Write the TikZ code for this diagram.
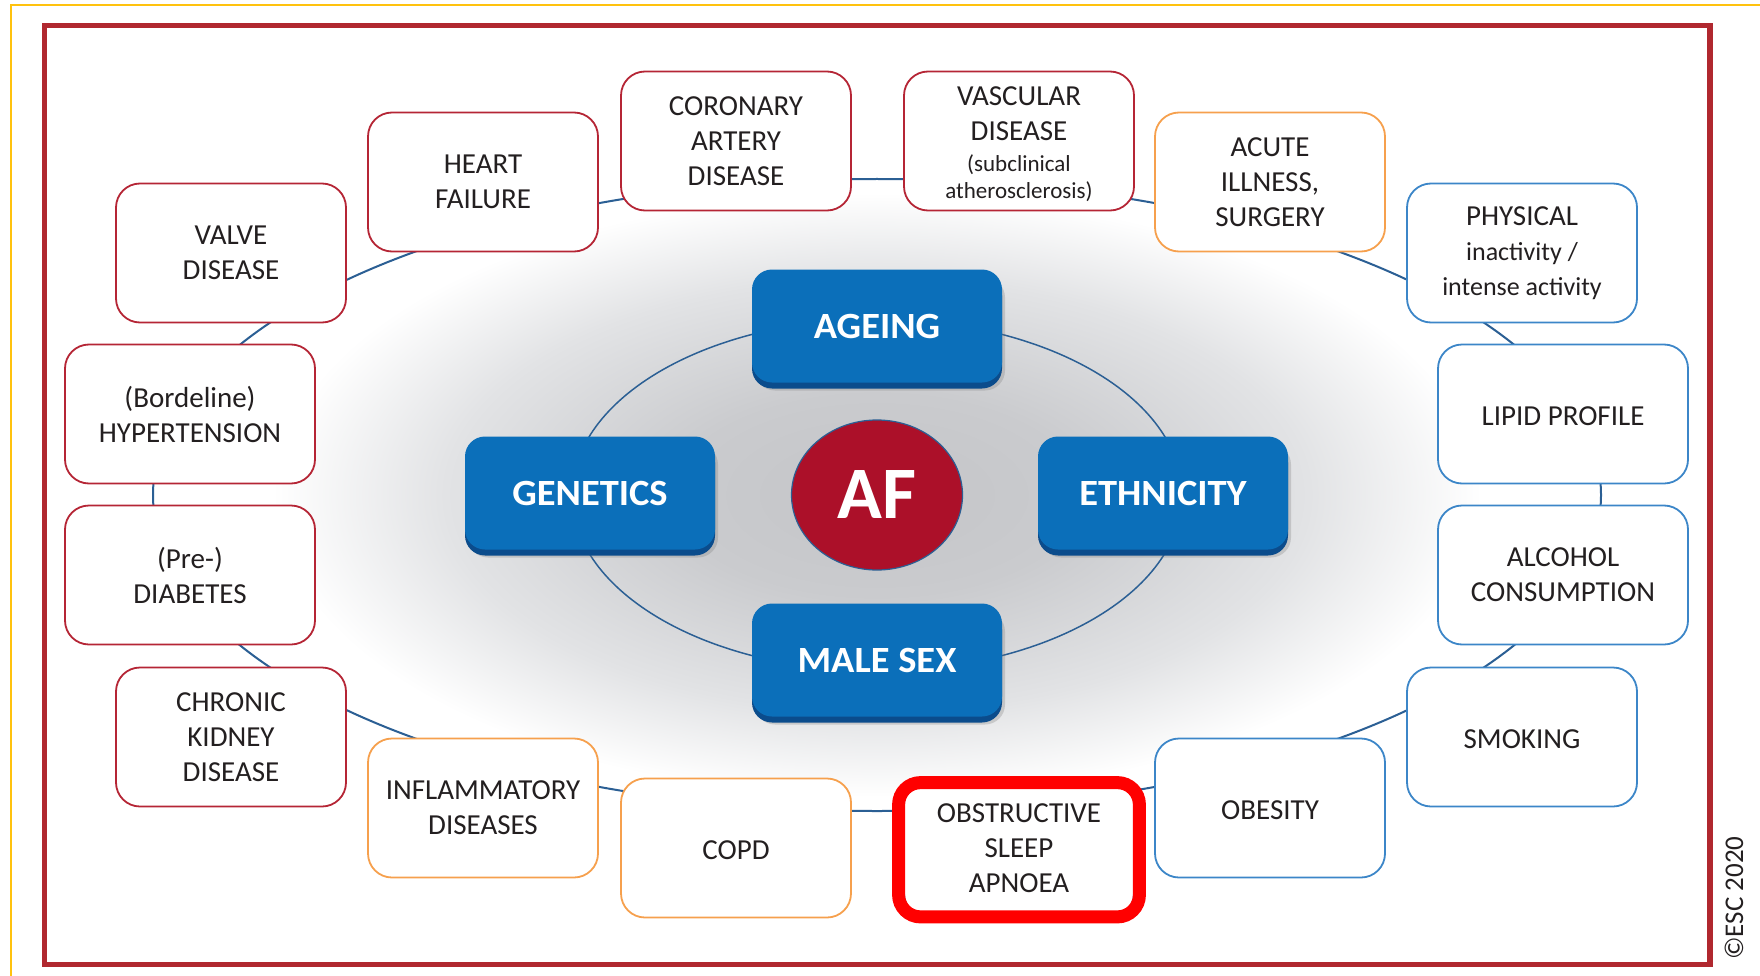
\documentclass[tikz,border=0pt]{standalone}
\usepackage{fontspec}
\setmainfont{Carlito}
\newfontfamily\btnfont[FakeStretch=1.04]{Carlito}
\usetikzlibrary{calc,shapes.geometric,shadows}

\definecolor{framered}{HTML}{B0282F}
\definecolor{edgeyellow}{HTML}{FFC20E}
\definecolor{boxred}{HTML}{B52535}
\definecolor{boxorange}{HTML}{F6A04D}
\definecolor{boxblue}{HTML}{3C86C8}
\definecolor{ringblue}{HTML}{2B5F94}
\definecolor{btnblue}{HTML}{0B6FBA}
\definecolor{btndark}{HTML}{0B4C8C}
\definecolor{afred}{HTML}{AC1029}
\definecolor{txtgray}{HTML}{231F20}
\definecolor{glowa}{HTML}{C4C5C8}
\definecolor{glowb}{HTML}{CACBCE}
\definecolor{glowc}{HTML}{E2E3E5}
\pgfdeclareradialshading{afglow}{\pgfpoint{0bp}{0bp}}{color(0bp)=(glowa); color(7bp)=(glowb); color(15bp)=(glowc); color(21bp)=(white); color(50bp)=(white)}

\begin{document}
\begin{tikzpicture}[x=1pt, y=-1pt,
	riskbox/.style={draw, line width=1.8pt, fill=white, rounded corners=24pt, minimum width=230pt, minimum height=139pt, inner sep=0pt, align=center, text=txtgray, font=\fontsize{29}{35}\selectfont, execute at begin node={\rule{0pt}{24pt}}},
	widebox/.style={riskbox, minimum width=250pt},
	redrisk/.style={draw=boxred},
	orangerisk/.style={draw=boxorange},
	bluerisk/.style={draw=boxblue},
	factorbtn/.style={rounded corners=20pt, minimum width=250pt, minimum height=113pt, inner sep=0pt, fill=btnblue, text=white, font=\btnfont\bfseries\fontsize{37}{40}\selectfont, drop shadow={shadow xshift=3pt, shadow yshift=-8pt, opacity=0.3}, general shadow={fill=btndark, shadow yshift=-6pt}},
	ring/.style={draw=ringblue, line width=2pt},
	innerring/.style={draw=ringblue, line width=1.5pt},
	osamark/.style={draw=red, line width=13pt, rounded corners=22pt}]
		%%%%% START %%%%%
		
		\useasboundingbox (0, 0) rectangle (1760, 976);
		\draw[edgeyellow, line width=2pt] (11, 976) -- (11, 5) -- (1760, 5);
		\draw[framered, line width=5.5pt] (44.5, 25.5) rectangle (1710, 964.5);
		
		\coordinate (hub) at (877, 495);
		\shade[shading=afglow] (hub) ellipse [x radius=720pt, y radius=360pt];
		\draw[ring] (hub) ellipse [x radius=724pt, y radius=316pt];
		\draw[innerring] (hub) ellipse [x radius=305pt, y radius=176pt];
		
		% outer ring of risk factors
		\node[riskbox, redrisk] (valve) at (231, 253) {VALVE\\DISEASE};
		\node[riskbox, redrisk] (heart) at (483, 182) {HEART\\FAILURE};
		\node[riskbox, redrisk] (coronary) at (736, 141) {CORONARY\\ARTERY\\DISEASE};
		\node[riskbox, redrisk] (vascular) at (1019, 141) {\rule{0pt}{31pt}VASCULAR\\DISEASE\\[-4pt]{\fontsize{23}{27}\selectfont\begin{tabular}[t]{@{}c@{}}(subclinical\\atherosclerosis)\end{tabular}}};
		\node[riskbox, orangerisk] (acute) at (1270, 182) {ACUTE\\ILLNESS,\\SURGERY};
		\node[riskbox, bluerisk] (physical) at (1522, 253) {PHYSICAL\\{\fontsize{26}{35}\selectfont inactivity /}\\{\fontsize{26}{35}\selectfont intense activity}};
		\node[widebox, bluerisk] (lipid) at (1563, 414) {LIPID PROFILE};
		\node[widebox, bluerisk] (alcohol) at (1563, 575) {ALCOHOL\\CONSUMPTION};
		\node[riskbox, bluerisk] (smoking) at (1522, 737) {SMOKING};
		\node[riskbox, bluerisk] (obesity) at (1270, 808) {OBESITY};
		\node[riskbox, bluerisk] (osa) at (1019, 848) {OBSTRUCTIVE\\SLEEP\\APNOEA};
		\node[riskbox, orangerisk] (copd) at (736, 848) {COPD};
		\node[riskbox, orangerisk] (inflam) at (483, 808) {INFLAMMATORY\\DISEASES};
		\node[riskbox, redrisk] (kidney) at (231, 737) {CHRONIC\\KIDNEY\\DISEASE};
		\node[widebox, redrisk] (diabetes) at (190, 575) {(Pre-)\\DIABETES};
		\node[widebox, redrisk] (hypert) at (190, 414) {(Bordeline)\\HYPERTENSION};
		
		% inner factors
		\node[factorbtn] (ageing) at (877, 326) {AGEING};
		\node[factorbtn] (genetics) at (590, 493) {GENETICS};
		\node[factorbtn] (ethnicity) at (1163, 493) {ETHNICITY};
		\node[factorbtn] (malesex) at (877, 660) {MALE SEX};
		
		\node[ellipse, minimum width=171pt, minimum height=150pt, inner sep=0pt, fill=afred, draw=ringblue, line width=1.2pt, text=white, font=\bfseries\fontsize{74}{80}\selectfont] (af) at (hub) {AF};
		
		\draw[osamark] ($(osa.north west)+(-4.5, 5)$) rectangle ($(osa.south east)+(4.5, -1.5)$);
		
		\node[rotate=90, text=txtgray, font=\fontsize{27}{30}\selectfont] (esc) at (1734, 898) {©ESC 2020};
		
		%%%%% END %%%%%
	\end{tikzpicture}
\end{document}
